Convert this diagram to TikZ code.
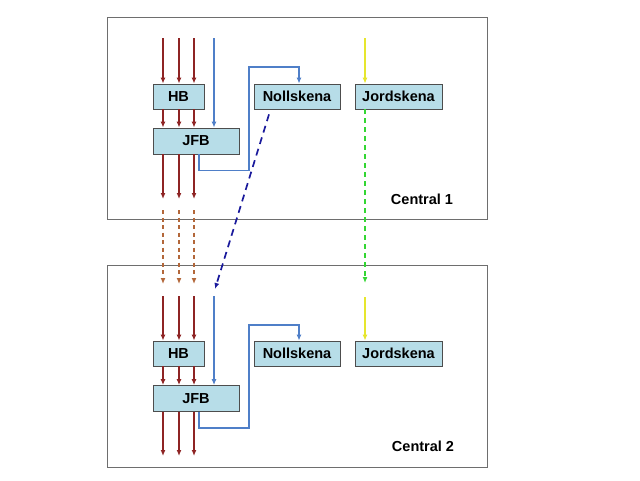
\documentclass[tikz,border=0pt]{standalone}
\usepackage{fontspec}
\setmainfont{Liberation Sans}
\usepackage{xcolor}
\usepackage{tikz}
\usetikzlibrary{arrows.meta}
\definecolor{framegray}{HTML}{6E6E6E}
\definecolor{boxgray}{HTML}{4D4D4D}
\definecolor{busfill}{HTML}{B7DDE8}
\definecolor{phasered}{HTML}{8E2424}
\definecolor{phasebrown}{HTML}{B3673A}
\definecolor{neutralblue}{HTML}{4F7FC8}
\definecolor{linkblue}{HTML}{1A1A9C}
\definecolor{earthyellow}{HTML}{E6E62E}
\definecolor{earthgreen}{HTML}{33D633}
\tikzset{
  central/.style={
    draw=framegray,
    line width=0.9pt,
    minimum width=380pt,
    minimum height=202pt,
    inner sep=0pt
  },
  busbar/.style={
    draw=boxgray,
    fill=busfill,
    line width=0.8pt,
    minimum height=25pt,
    inner sep=0pt,
    font=\fontsize{14.5}{16}\selectfont\bfseries
  },
  centrallabel/.style={
    inner sep=0pt,
    font=\fontsize{14.5}{16}\selectfont\bfseries
  },
  phasearrow/.style={
    -{Latex[length=6pt,width=5pt]},
    line width=1.6pt,
    draw=phasered
  },
  phaselink/.style={
    phasearrow,
    draw=phasebrown,
    dash pattern=on 4pt off 3.5pt
  },
  neutralarrow/.style={
    -{Latex[length=6pt,width=5pt]},
    line width=1.3pt,
    draw=neutralblue
  },
  neutrallink/.style={
    neutralarrow,
    line width=1.7pt,
    draw=linkblue,
    dash pattern=on 7pt off 5pt
  },
  eartharrow/.style={
    -{Latex[length=6pt,width=5pt]},
    line width=1.3pt,
    draw=earthyellow
  },
  earthlink/.style={
    eartharrow,
    line width=1.5pt,
    draw=earthgreen,
    dash pattern=on 5pt off 4pt
  }
}
\begin{document}
\begin{tikzpicture}[x=1pt,y=-1pt]
    \useasboundingbox (0,0) rectangle (640,480);

    % Central 1
    \node[central] (central1) at (297,118) {};
    \node[busbar, minimum width=51pt] (hb1) at (178.5,96.5) {HB};
    \node[busbar, minimum width=86pt] (noll1) at (297,96.5) {Nollskena};
    \node[busbar, minimum width=87pt] (jord1) at (398.5,96.5) {Jordskena};
    \node[busbar, minimum width=86pt, minimum height=26pt] (jfb1) at (196,141) {JFB};
    \node[centrallabel] (label1) at (422,199) {Central 1};

    % Central 2
    \node[central] (central2) at (297,366) {};
    \node[busbar, minimum width=51pt] (hb2) at (178.5,353.5) {HB};
    \node[busbar, minimum width=86pt] (noll2) at (297,353.5) {Nollskena};
    \node[busbar, minimum width=87pt] (jord2) at (398.5,353.5) {Jordskena};
    \node[busbar, minimum width=86pt, minimum height=26pt] (jfb2) at (196,398.5) {JFB};
    \node[centrallabel] (label2) at (423,446) {Central 2};

    \coordinate (neutralin) at (214,38);
    \coordinate (neutralout) at (215,289);
    \coordinate (neutralnext) at (214,296);
    \coordinate (earthin) at (365,38);
    \coordinate (earthout) at (365,283);
    \coordinate (earthnext) at (365,297);

    % phases
    \foreach \x in {163,179,194} {
        \draw[phasearrow] (\x,38) -- (\x,0 |- hb1.north);
        \draw[phasearrow] (\x,0 |- hb1.south) -- (\x,0 |- jfb1.north);
        \draw[phasearrow] (\x,0 |- jfb1.south) -- (\x,199);
        \draw[phaselink] (\x,210) -- (\x,284);
        \draw[phasearrow] (\x,296) -- (\x,0 |- hb2.north);
        \draw[phasearrow] (\x,0 |- hb2.south) -- (\x,0 |- jfb2.north);
        \draw[phasearrow] (\x,0 |- jfb2.south) -- (\x,456);
    }

    % neutral
    \draw[neutralarrow] (neutralin) -- (neutralin |- jfb1.north);
    \draw[neutralarrow] ([xshift=3pt]jfb1.south) -- ++(0,16) -| (249,67) -| ([xshift=2pt]noll1.north);
    \draw[neutrallink] ([xshift=-28pt,yshift=-5pt]noll1.south) -- (neutralout);
    \draw[neutralarrow] (neutralnext) -- (neutralnext |- jfb2.north);
    \draw[neutralarrow] ([xshift=3pt]jfb2.south) -- ++(0,16) -| (249,325) -| ([xshift=2pt]noll2.north);

    % earth
    \draw[eartharrow] (earthin) -- (earthin |- jord1.north);
    \draw[earthlink] (earthin |- jord1.south) -- (earthout);
    \draw[eartharrow] (earthnext) -- (earthnext |- jord2.north);
\end{tikzpicture}
\end{document}
